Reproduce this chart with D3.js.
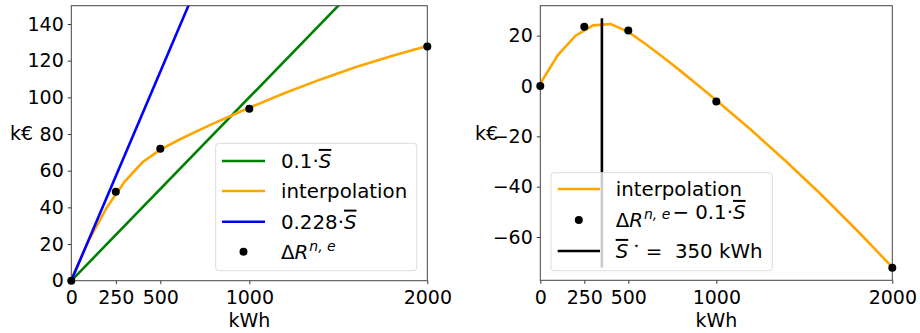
<!DOCTYPE html>
<html>
<head>
<meta charset="utf-8">
<script src="https://cdn.jsdelivr.net/npm/d3@7"></script>
<style>
  body { margin: 0; background: #fff; }
  svg text { font-family: "DejaVu Sans", sans-serif; }
</style>
</head>
<body>
<div id="app"></div>
<script>
// measured points (kWh -> k€)
let sizes = [0, 250, 500, 1000, 2000];
let deltaR = [0, 48.5, 72, 93.8, 127.8];

// interpolation curve (left panel values)
let interpX = [0, 100, 200, 300, 400, 500, 600, 700, 800, 900, 1000, 1200, 1400, 1600, 1800, 2000];
let interpY = [1, 22.3, 40, 54.1, 64.6, 71.5, 76.6, 81.3, 85.8, 90.1, 94.3, 102.4, 109.8, 116.6, 122.6, 128];

let slopeLow = 0.1;
let slopeHigh = 0.228;
let optimum = 350;

let xTicks = [0, 250, 500, 1000, 2000];
let yTicksLeft = [0, 20, 40, 60, 80, 100, 120, 140];
let yTicksRight = [-60, -40, -20, 0, 20];

let fontSize = 19;
let legendFont = 19.8;

let svg = d3.select('#app').append('svg')
    .attr('width', 920)
    .attr('height', 333);

function makePanel(left, right, top, bottom, yDomain, yTicks) {
  let x = d3.scaleLinear().domain([0, 2000]).range([left, right]);
  let y = d3.scaleLinear().domain(yDomain).range([bottom, top]);
  let g = svg.append('g');
  let clipId = 'clip' + Math.round(left);
  svg.append('clipPath').attr('id', clipId)
    .append('rect').attr('x', left).attr('y', top)
    .attr('width', right - left).attr('height', bottom - top);
  let plot = g.append('g').attr('clip-path', `url(#${clipId})`);

  let xAxis = d3.axisBottom(x).tickValues(xTicks).tickSize(3.5).tickPadding(4).tickFormat(d3.format('d'));
  let yAxis = d3.axisLeft(y).tickValues(yTicks).tickSize(3.5).tickPadding(4)
      .tickFormat(d => d < 0 ? '\u2212' + Math.abs(d) : d);

  let gx = g.append('g').attr('transform', `translate(0, ${bottom})`).call(xAxis);
  let gy = g.append('g').attr('transform', `translate(${left}, 0)`).call(yAxis);
  [gx, gy].forEach(a => {
    a.select('.domain').remove();
    a.selectAll('line').attr('stroke', '#000').attr('stroke-width', 0.8);
    a.selectAll('text').attr('font-size', fontSize).attr('fill', '#000')
      .attr('font-family', '"DejaVu Sans", sans-serif');
  });
  gx.selectAll('text').attr('dy', '0.85em');

  // frame
  g.append('rect')
    .attr('x', left).attr('y', top)
    .attr('width', right - left).attr('height', bottom - top)
    .attr('fill', 'none').attr('stroke', '#444').attr('stroke-width', 1);

  g.append('text')
    .attr('x', (left + right) / 2).attr('y', 327)
    .attr('text-anchor', 'middle').attr('font-size', fontSize)
    .text('kWh');

  return { x, y, plot, g };
}

// ---- left panel
let L = makePanel(71.3, 427.3, 5.7, 280.7, [0, 150], yTicksLeft);

let lineGen = d3.line().x(d => L.x(d[0])).y(d => L.y(d[1]));
L.plot.append('path')
  .attr('d', lineGen([[0, 0], [2000, slopeLow * 2000]]))
  .attr('stroke', 'green').attr('stroke-width', 2.6).attr('fill', 'none');
L.plot.append('path')
  .attr('d', lineGen(interpX.map((d, i) => [d, interpY[i]])))
  .attr('stroke', 'orange').attr('stroke-width', 2.6).attr('fill', 'none');
L.plot.append('path')
  .attr('d', lineGen([[0, 0], [2000, slopeHigh * 2000]]))
  .attr('stroke', 'blue').attr('stroke-width', 2.6).attr('fill', 'none');
L.g.selectAll('.pt').data(sizes).enter().append('circle')
  .attr('cx', d => L.x(d)).attr('cy', (d, i) => L.y(deltaR[i]))
  .attr('r', 4).attr('fill', '#000');

L.g.append('text').attr('x', 10).attr('y', 140).attr('font-size', fontSize).text('k€');

// ---- right panel
let R = makePanel(540.3, 892.3, 5.7, 280.3, [-77.2, 31.9], yTicksRight);
let lineR = d3.line().x(d => R.x(d[0])).y(d => R.y(d[1]));
R.plot.append('path')
  .attr('d', lineR(interpX.map((d, i) => [d, interpY[i] - slopeLow * d])))
  .attr('stroke', 'orange').attr('stroke-width', 2.6).attr('fill', 'none');
R.plot.append('path')
  .attr('d', lineR([[optimum, -72.2], [optimum, 26.9]]))
  .attr('stroke', '#000').attr('stroke-width', 2.6).attr('fill', 'none');
R.g.selectAll('.pt').data(sizes).enter().append('circle')
  .attr('cx', d => R.x(d)).attr('cy', (d, i) => R.y(deltaR[i] - slopeLow * d))
  .attr('r', 4).attr('fill', '#000');

R.g.append('text').attr('x', 475).attr('y', 140).attr('font-size', fontSize).text('k€');

// ---- legends
function legendBox(x0, y0, w, h) {
  svg.append('rect').attr('x', x0).attr('y', y0).attr('width', w).attr('height', h)
    .attr('rx', 3).attr('fill', '#fff').attr('fill-opacity', 0.8)
    .attr('stroke', '#ddd').attr('stroke-width', 1);
}
function handleLine(x0, x1, yy, color) {
  svg.append('line').attr('x1', x0).attr('x2', x1).attr('y1', yy).attr('y2', yy)
    .attr('stroke', color).attr('stroke-width', 2.6);
}
function handleDot(xc, yy) {
  svg.append('circle').attr('cx', xc).attr('cy', yy).attr('r', 4).attr('fill', '#000');
}
function sBar(t) {
  t.append('tspan').attr('font-style', 'italic').attr('text-decoration', 'overline').text('S');
}
function label(xx, yy) {
  return svg.append('text').attr('x', xx).attr('y', yy).attr('dy', '0.35em').attr('font-size', legendFont);
}
function deltaRTerm(t) {
  t.append('tspan').text('Δ');
  t.append('tspan').attr('font-style', 'italic').text('R');
  t.append('tspan').attr('font-style', 'italic').attr('font-size', 14).attr('dy', -8).attr('dx', 1).text('n, e');
  t.append('tspan').attr('dy', 8).text('');
}

legendBox(215.7, 143.3, 201, 127.4);
handleLine(222, 265, 161, 'green');
handleLine(222, 265, 191, 'orange');
handleLine(222, 265, 221.7, 'blue');
handleDot(243.5, 251.7);
let t1 = label(281, 161); t1.append('tspan').text('0.1·'); sBar(t1);
label(281, 191).text('interpolation');
let t3 = label(281, 221.7); t3.append('tspan').text('0.228·'); sBar(t3);
let t4 = label(281, 251.7); deltaRTerm(t4);

legendBox(551, 172.7, 221.3, 98);
handleLine(557.7, 600, 189, 'orange');
handleDot(578.8, 220);
handleLine(557.7, 600, 251, '#000');
label(615.7, 189).text('interpolation');
let r2 = label(615.7, 220); deltaRTerm(r2);
r2.append('tspan').attr('dx', 2).text('\u2212 0.1·'); sBar(r2);
let r3 = label(615.7, 251); sBar(r3);
r3.append('tspan').attr('font-size', 10).attr('dy', -9).attr('dx', 5).text('\u22C6');
r3.append('tspan').attr('dy', 9).text('\u00A0=\u00A0\u00A0350 kWh');
</script>
</body>
</html>
